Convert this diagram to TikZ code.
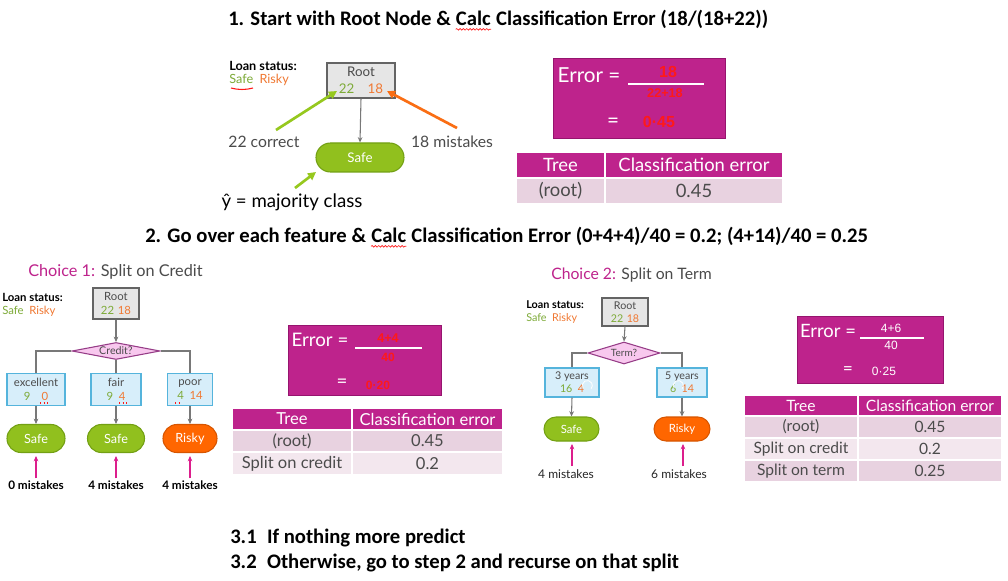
\documentclass[tikz,border=0pt]{standalone}
\usepackage{fontspec}
\setmainfont{Lato}
\newfontfamily\calfont{Carlito}
\newfontfamily\handfont{Liberation Sans}
\usetikzlibrary{shapes.geometric,shapes.misc,arrows.meta,decorations.pathmorphing}
\definecolor{mag}{RGB}{190,35,140}
\definecolor{magbd}{RGB}{150,20,110}
\definecolor{pinkA}{RGB}{232,210,224}
\definecolor{pinkB}{RGB}{243,231,238}
\definecolor{safetxt}{RGB}{125,170,55}
\definecolor{riskytxt}{RGB}{240,120,50}
\definecolor{pillgreen}{RGB}{145,192,30}
\definecolor{pillgreenbd}{RGB}{115,160,20}
\definecolor{pillorange}{RGB}{255,102,0}
\definecolor{pillorangebd}{RGB}{215,85,0}
\definecolor{boxfill}{RGB}{230,230,230}
\definecolor{boxgray}{RGB}{100,100,100}
\definecolor{bluefill}{RGB}{215,238,250}
\definecolor{bluebd}{RGB}{85,180,220}
\definecolor{diafill}{RGB}{248,200,238}
\definecolor{diabd}{RGB}{150,60,135}
\definecolor{txtgray}{RGB}{75,75,75}
\definecolor{conngray}{RGB}{120,120,120}
\definecolor{annogreen}{RGB}{150,200,30}
\definecolor{annoorange}{RGB}{250,110,20}
\definecolor{hred}{RGB}{255,25,25}
\definecolor{upmag}{RGB}{220,30,140}
\begin{document}
\begin{tikzpicture}[x=0.75pt,y=-0.75pt,
  every node/.style={inner sep=0pt},
  sz/.style 2 args={minimum width=#1*0.75pt, minimum height=#2*0.75pt},
  title/.style={font=\calfont\bfseries\fontsize{15.5}{18}\selectfont, text=black},
  titlepart/.style={title, anchor=base west},
  rootbox/.style={draw=boxgray, fill=boxfill, line width=0.8pt, align=center, text=txtgray},
  leafbox/.style={draw=bluebd, fill=bluefill, line width=0.8pt, align=center, text=txtgray, font=\fontsize{8.5}{11}\selectfont},
  pill/.style={rounded rectangle, line width=0.8pt, text=white},
  safepill/.style={pill, fill=pillgreen, draw=pillgreenbd},
  riskypill/.style={pill, fill=pillorange, draw=pillorangebd},
  dia/.style={diamond, aspect=4, fill=diafill, draw=diabd, line width=0.8pt, text=txtgray, font=\fontsize{8}{9}\selectfont},
  conn/.style={draw=conngray, line width=0.8pt},
  arr/.style={conn, -{Stealth[length=4pt,width=3.5pt]}},
  uparr/.style={draw=upmag, line width=1pt, -{Stealth[length=4pt,width=3.5pt]}},
  annoarr/.style={line width=2pt, -{Triangle[length=6pt,width=6pt]}},
  errbox/.style={fill=mag, draw=magbd, line width=0.6pt},
  errtxt/.style={text=white},
  hand/.style={font=\handfont\fontsize{8.5}{10}\selectfont, text=hred},
  cell/.style={draw=white, line width=1pt},
  hdr/.style={cell, fill=mag, text=white},
  rowA/.style={cell, fill=pinkA, text=txtgray},
  rowB/.style={cell, fill=pinkB, text=txtgray},
  lstat/.style={font=\bfseries\fontsize{8.5}{10}\selectfont, text=black, anchor=west},
  sr/.style={font=\fontsize{8.5}{10}\selectfont, anchor=west},
  wavy/.style={draw=hred, line width=0.5pt, decorate, decoration={snake, amplitude=0.6pt, segment length=2.5pt}}
]
\useasboundingbox (0,0) rectangle (1008,581);
\fill[white] (0,0) rectangle (1008,581);

% ---------- titles ----------
\node[titlepart] (t1a) at (228,26) {1. Start with Root Node \&\ \mbox{}};
\node[titlepart] (t1b) at (t1a.base east) {Calc};
\node[titlepart] (t1c) at (t1b.base east) {\mbox{}\ Classification Error (18/(18+22))};
\draw[wavy] ([yshift=-2.5pt]t1b.base west) -- ([yshift=-2.5pt]t1b.base east);
\node[titlepart] (t2a) at (145,243) {2. Go over each feature \&\ \mbox{}};
\node[titlepart] (t2b) at (t2a.base east) {Calc};
\node[titlepart] (t2c) at (t2b.base east) {\mbox{}\ Classification Error (0+4+4)/40 = 0.2; (4+14)/40 = 0.25};
\draw[wavy] ([yshift=-2.5pt]t2b.base west) -- ([yshift=-2.5pt]t2b.base east);
\node[title, anchor=west] (t3a) at (230,538) {3.1\enspace If nothing more predict};
\node[title, anchor=west] (t3b) at (230,563) {3.2\enspace Otherwise, go to step 2 and recurse on that split};

% ---------- section 1 ----------
\node[lstat, font=\bfseries\fontsize{9.5}{11}\selectfont] (ls1) at (229,66) {Loan status:};
\node[sr, font=\fontsize{9.5}{11}\selectfont] (sr1) at (229,80) {\textcolor{safetxt}{Safe}\enspace\textcolor{riskytxt}{Risky}};
\draw[hred, line width=0.8pt] (231,88) .. controls (238,90) and (246,90) .. (253,88);
\node[rootbox, sz={68}{35}, font=\fontsize{10}{12.5}\selectfont] (r1) at (361,80.5) {Root\\\textcolor{safetxt}{22}\quad\textcolor{riskytxt}{18}};
\node[safepill, sz={88}{29}, font=\fontsize{10}{12}\selectfont] (s1) at (360,157.5) {Safe};
\draw[arr] (r1.south) -- (s1.north);
\node[font=\fontsize{11.8}{13}\selectfont, text=txtgray] (corr) at (264,142) {22 correct};
\node[font=\fontsize{11.8}{13}\selectfont, text=txtgray] (mist) at (452,142) {18 mistakes};
\node[font=\fontsize{14}{16}\selectfont, text=black] (maj) at (292,202) {ŷ = majority class};
\coordinate (g1s) at (276,130); \coordinate (g1e) at (337,91);
\coordinate (o1s) at (457,128); \coordinate (o1e) at (387,91);
\coordinate (g2s) at (295,188); \coordinate (g2e) at (316,172);
\draw[annoarr, annogreen] (g1s) -- (g1e);
\draw[annoarr, annoorange] (o1s) -- (o1e);
\draw[annoarr, annogreen] (g2s) -- (g2e);

\node[errbox, sz={172}{80}] (e1) at (639,98) {};
\node[errtxt, font=\fontsize{15.5}{17}\selectfont] (e1t) at (589,75) {Error =};
\draw[white, line width=0.8pt] (628,84) -- (704,84);
\node[hand, font=\handfont\bfseries\fontsize{12}{13}\selectfont] (e1n) at (668,72) {18};
\node[hand, font=\handfont\bfseries\fontsize{9.5}{10}\selectfont] (e1d) at (665,93) {22+18};
\node[errtxt, font=\fontsize{15.5}{17}\selectfont] (e1eq) at (613,123) {=};
\node[hand, font=\handfont\bfseries\fontsize{12}{13}\selectfont] (e1v) at (659,122) {0·45};

\begin{scope}[every node/.append style={font=\fontsize{13.8}{15}\selectfont}]
\node[hdr, sz={89}{26}] (a11) at (560.5,165) {Tree};
\node[hdr, sz={178}{26}] (a12) at (694,165) {Classification error};
\node[rowA, sz={89}{26}] (a21) at (560.5,191) {(root)};
\node[rowA, sz={178}{26}] (a22) at (694,191) {0.45};
\end{scope}

% ---------- choice 1 ----------
\node[anchor=west, font=\fontsize{12.2}{14}\selectfont] (ch1) at (28,272) {\textcolor{mag}{Choice 1:} \textcolor{txtgray}{Split on Credit}};
\node[lstat] (ls2) at (2,297) {Loan status:};
\node[sr] (sr2) at (2,311) {\textcolor{safetxt}{Safe}\enspace\textcolor{riskytxt}{Risky}};
\node[rootbox, sz={46}{31}, font=\fontsize{8.5}{11}\selectfont] (c1r) at (116,303.5) {Root\\\textcolor{safetxt}{22}\,\,\textcolor{riskytxt}{18}};
\node[dia, sz={88}{17}] (cred) at (116,351) {Credit?};
\draw[arr] (c1r.south) -- (cred.north);
\node[leafbox, sz={58}{32}] (ex) at (36,389.5) {excellent\\\textcolor{safetxt}{9}\quad\textcolor{riskytxt}{0}};
\node[leafbox, sz={50}{32}] (fa) at (116,389.5) {fair\\\textcolor{safetxt}{9}\enspace\textcolor{riskytxt}{4}};
\node[leafbox, sz={45}{32}] (po) at (190,389.5) {poor\\\textcolor{safetxt}{4}\enspace\textcolor{riskytxt}{14}};
\draw[conn] (cred.west) -| (ex.north);
\draw[conn] (cred.south) -- (fa.north);
\draw[conn] (cred.east) -| (po.north);
\draw[hred, line width=0.8pt, dotted] (40,403) -- (48,403);
\draw[hred, line width=0.8pt, dotted] (119,403) -- (127,403);
\draw[hred, line width=0.8pt, dotted] (175,403) -- (182,403);
\node[safepill, sz={58}{28}, font=\fontsize{9.5}{11}\selectfont] (pa) at (36,438.5) {Safe};
\node[safepill, sz={57}{28}, font=\fontsize{9.5}{11}\selectfont] (pb) at (116,438.5) {Safe};
\node[riskypill, sz={54}{28}, font=\fontsize{9.5}{11}\selectfont] (pc) at (190,438.5) {Risky};
\draw[arr] (ex.south) -- (pa.north);
\draw[arr] (fa.south) -- (pb.north);
\draw[arr] (po.south) -- (pc.north);
\begin{scope}[every node/.append style={font=\bfseries\fontsize{8.8}{10}\selectfont, text=black}]
\node (m1) at (36,485) {0 mistakes};
\node (m2) at (116,485) {4 mistakes};
\node (m3) at (190,485) {4 mistakes};
\end{scope}
\coordinate (u1) at (36,456); \coordinate (u2) at (116,456); \coordinate (u3) at (190,456);
\draw[uparr] ([yshift=1.5pt]m1.north) -- (u1);
\draw[uparr] ([yshift=1.5pt]m2.north) -- (u2);
\draw[uparr] ([yshift=1.5pt]m3.north) -- (u3);

\node[errbox, sz={153}{70}] (e2) at (364.5,360) {};
\node[errtxt, font=\fontsize{14}{16}\selectfont] (e2t) at (320,340) {Error =};
\draw[white, line width=0.8pt] (355,348) -- (422,348);
\node[hand, font=\handfont\bfseries\fontsize{9.5}{10}\selectfont] (e2n) at (388,338) {4+4};
\node[hand, font=\handfont\bfseries\fontsize{9}{10}\selectfont] (e2d) at (388,357) {40};
\node[errtxt, font=\fontsize{14}{16}\selectfont] (e2eq) at (342,383) {=};
\node[hand, font=\handfont\bfseries\fontsize{9}{10}\selectfont] (e2v) at (378,385) {0·20};

\begin{scope}[every node/.append style={font=\fontsize{12.4}{14}\selectfont}]
\node[hdr, sz={120}{22}] (b11) at (292,419) {Tree};
\node[hdr, sz={151}{22}] (b12) at (427.5,419) {Classification error};
\node[rowA, sz={120}{22}] (b21) at (292,441) {(root)};
\node[rowA, sz={151}{22}] (b22) at (427.5,441) {0.45};
\node[rowB, sz={120}{23}] (b31) at (292,463.5) {Split on credit};
\node[rowB, sz={151}{23}] (b32) at (427.5,463.5) {0.2};
\end{scope}

% ---------- choice 2 ----------
\node[anchor=west, font=\fontsize{11.8}{14}\selectfont] (ch2) at (551,275) {\textcolor{mag}{Choice 2:} \textcolor{txtgray}{Split on Term}};
\node[lstat, font=\bfseries\fontsize{8.1}{10}\selectfont] (ls3) at (526,305) {Loan status:};
\node[sr, font=\fontsize{8.1}{10}\selectfont] (sr3) at (526,318) {\textcolor{safetxt}{Safe}\enspace\textcolor{riskytxt}{Risky}};
\node[rootbox, sz={46}{28}, font=\fontsize{8}{10}\selectfont] (c2r) at (625,312) {Root\\\textcolor{safetxt}{22}\,\,\textcolor{riskytxt}{18}};
\node[dia, sz={72}{22}, font=\fontsize{7.5}{9}\selectfont] (term) at (624,353) {Term?};
\draw[arr] (c2r.south) -- (term.north);
\node[leafbox, sz={54}{29}, font=\fontsize{8}{10}\selectfont] (y3) at (572,382.5) {3 years\\\textcolor{safetxt}{16}\enspace\textcolor{riskytxt}{4}};
\node[leafbox, sz={50}{29}, font=\fontsize{8}{10}\selectfont] (y5) at (682,382.5) {5 years\\\textcolor{safetxt}{6}\enspace\textcolor{riskytxt}{14}};
\draw[conn] (term.west) -| (y3.north);
\draw[conn] (term.east) -| (y5.north);
\draw[white, line width=0.6pt] (583,388) arc (150:400:5);
\draw[white, line width=0.6pt] (674,388) arc (150:400:5);
\node[safepill, sz={55}{24}, font=\fontsize{8.5}{10}\selectfont] (pd) at (571.5,429) {Safe};
\node[riskypill, sz={56}{24}, font=\fontsize{8.5}{10}\selectfont] (pe) at (682,429) {Risky};
\draw[arr] (y3.south) -- (pd.north);
\draw[arr] (y5.south) -- (pe.north);
\begin{scope}[every node/.append style={font=\fontsize{9}{10}\selectfont, text=black!85}]
\node (m4) at (566,474) {4 mistakes};
\node (m5) at (679,474) {6 mistakes};
\end{scope}
\coordinate (u4) at (572,444); \coordinate (u5) at (683,444);
\draw[uparr] (572,466) -- (u4);
\draw[uparr] (683,466) -- (u5);

\node[errbox, sz={146}{67}] (e3) at (870,349.5) {};
\node[errtxt, font=\fontsize{13.8}{15}\selectfont] (e3t) at (828,331) {Error =};
\draw[white, line width=0.8pt] (860,338) -- (924,338);
\node[hand, text=white, font=\handfont\fontsize{9}{10}\selectfont] (e3n) at (891,328) {4+6};
\node[hand, text=white, font=\handfont\fontsize{9}{10}\selectfont] (e3d) at (891,345) {40};
\node[errtxt, font=\fontsize{13}{15}\selectfont] (e3eq) at (848,371) {=};
\node[hand, text=white, font=\handfont\fontsize{9}{10}\selectfont] (e3v) at (884,371) {0·25};

\begin{scope}[every node/.append style={font=\fontsize{11.7}{13}\selectfont}]
\node[hdr, sz={114}{21}] (c11) at (801,405.5) {Tree};
\node[hdr, sz={144}{21}] (c12) at (930,405.5) {Classification error};
\node[rowA, sz={114}{22}] (c21) at (801,427) {(root)};
\node[rowA, sz={144}{22}] (c22) at (930,427) {0.45};
\node[rowB, sz={114}{22}] (c31) at (801,449) {Split on credit};
\node[rowB, sz={144}{22}] (c32) at (930,449) {0.2};
\node[rowA, sz={114}{22}] (c41) at (801,471) {Split on term};
\node[rowA, sz={144}{22}] (c42) at (930,471) {0.25};
\end{scope}
\end{tikzpicture}
\end{document}
